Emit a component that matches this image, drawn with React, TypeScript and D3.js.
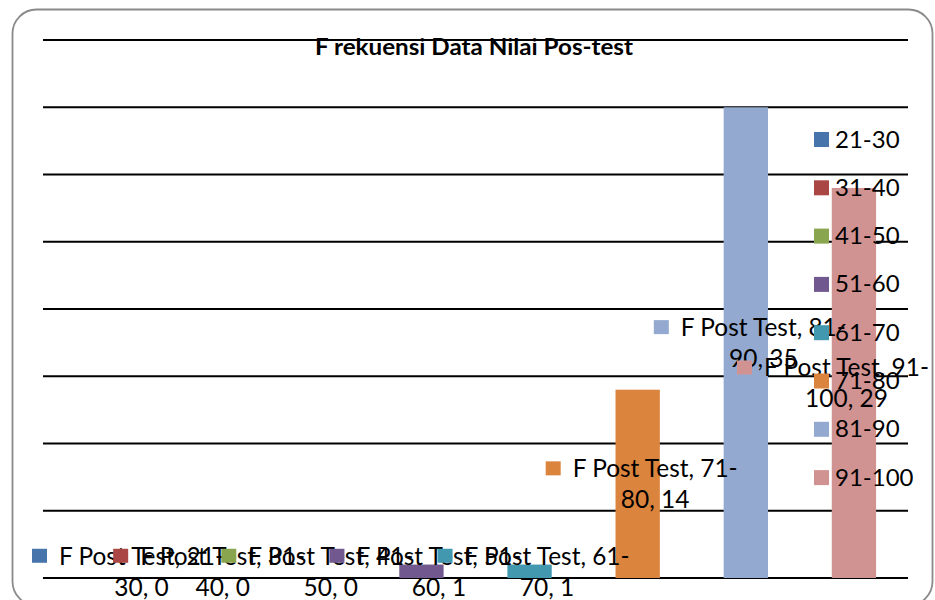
import React from "react";
import * as d3 from "d3";

const categories = ["21-30", "31-40", "41-50", "51-60", "61-70", "71-80", "81-90", "91-100"];
const values = [0, 0, 0, 1, 1, 14, 35, 29];
const seriesName = "F Post Test";
const colors = ["#4674AB", "#AA4643", "#89A54E", "#71588F", "#4198AF", "#DB843D", "#93A9CF", "#D19392"];
const yTicks = [0, 5, 10, 15, 20, 25, 30, 35, 40];
const title = "F rekuensi Data Nilai Pos-test";

const W = 935;
const H = 600;
const FONT = "Lato, 'Open Sans', sans-serif";
const FS = 24.5;

export default function App() {
  const y = d3.scaleLinear().domain([0, 40]).range([578, 40]);
  const x = d3
    .scaleBand<string>()
    .domain(categories)
    .range([43, 908])
    .paddingInner(0.59)
    .paddingOuter(0.295);

  const textW = 165;
  const labelW = 15 + 12 + textW;
  const maxCenter = y(0.5) as number;

  return (
    <svg width={W} height={H} style={{ position: "absolute", left: 0, top: 0 }}>
      <rect x={0} y={0} width={W} height={H} fill="#fff" />
      <rect x={12.5} y={9.5} width={920} height={596} rx={24} ry={24} fill="#fff" stroke="#8a8a8a" strokeWidth={1.8} />
      {yTicks.map((t) => (
        <line key={t} x1={43} x2={908} y1={y(t)} y2={y(t)} stroke="#000" strokeWidth={2} />
      ))}
      <text
        x={474}
        y={55}
        textAnchor="middle"
        fontFamily={FONT}
        fontWeight="bold"
        fontSize={23}
        textLength={318}
        lengthAdjust="spacingAndGlyphs"
        fill="#000"
      >
        {title}
      </text>
      {categories.map((c, i) => (
        <rect
          key={c}
          x={x(c)}
          y={y(values[i])}
          width={x.bandwidth()}
          height={y(0) - y(values[i])}
          fill={colors[i]}
        />
      ))}
      {categories.map((c, i) => {
        const cx = (x(c) as number) + x.bandwidth() / 2;
        let left = cx + 4 - labelW / 2;
        left = Math.max(32, Math.min(929 - labelW, left));
        const center = Math.min((y(values[i]) + y(0)) / 2, maxCenter);
        const b1 = center - 6.5;
        const b2 = center + 24.5;
        const parts = c.split("-");
        return (
          <g key={c}>
            <rect x={left} y={b1 - 16} width={15} height={14} fill={colors[i]} />
            <text
              x={left + 27}
              y={b1}
              fontFamily={FONT}
              fontSize={FS}
              textLength={textW}
              lengthAdjust="spacingAndGlyphs"
              fill="#000"
            >
              {`${seriesName}, ${parts[0]}-`}
            </text>
            <text x={left + 27 + textW / 2} y={b2} textAnchor="middle" fontFamily={FONT} fontSize={FS} fill="#000">
              {`${parts[1]}, ${values[i]}`}
            </text>
          </g>
        );
      })}
      {categories.map((c, i) => {
        const top = 132 + i * 48.3;
        return (
          <g key={c}>
            <rect x={814} y={top} width={15} height={15} fill={colors[i]} />
            <text x={835} y={top + 15.5} fontFamily={FONT} fontSize={24} fill="#000">
              {c}
            </text>
          </g>
        );
      })}
    </svg>
  );
}
